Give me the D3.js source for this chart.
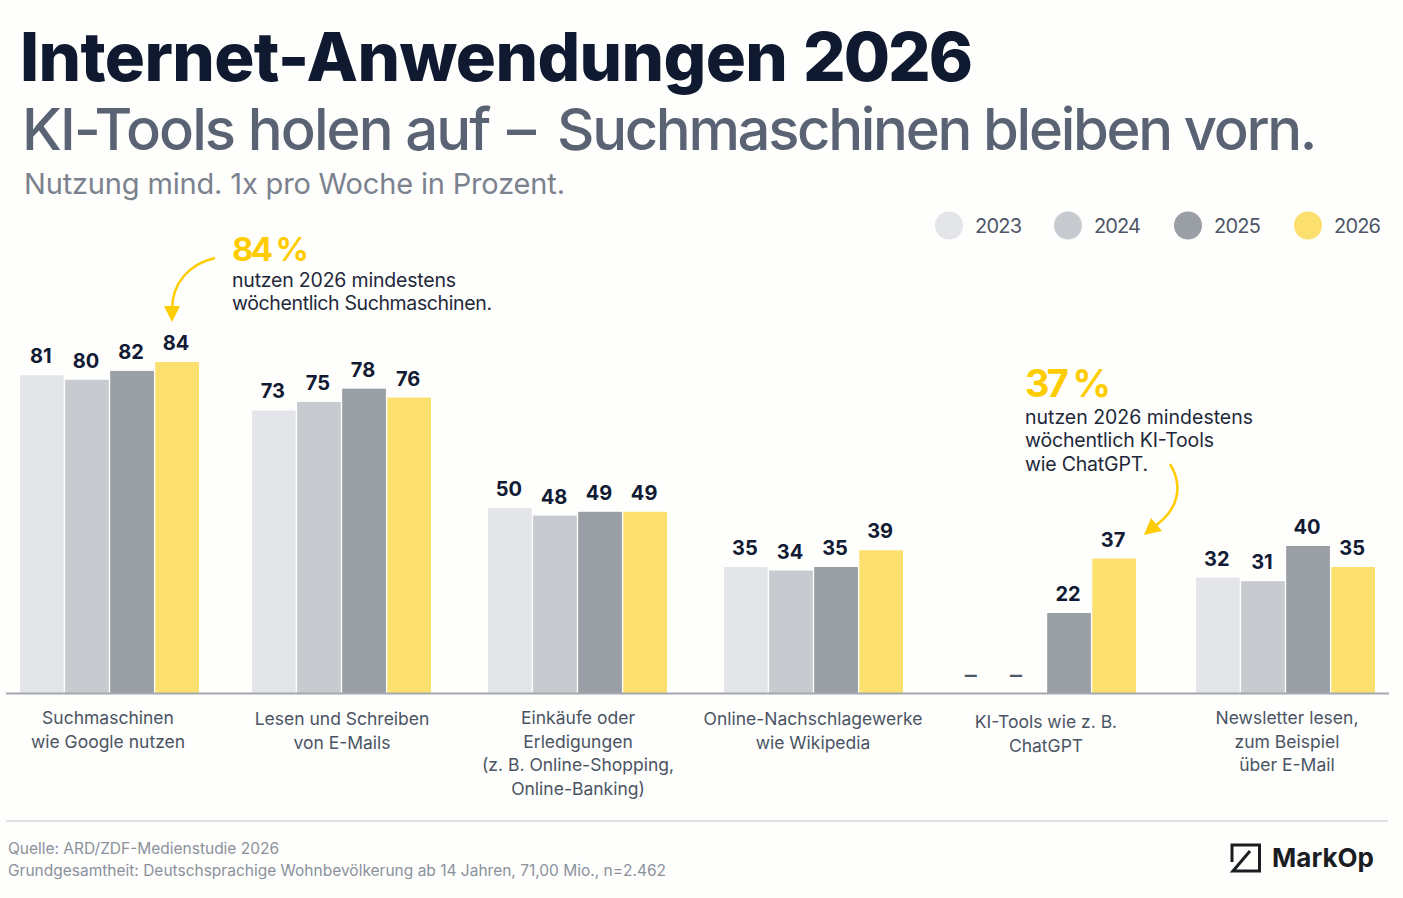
<!DOCTYPE html>
<html><head><meta charset="utf-8">
<script src="https://cdn.jsdelivr.net/npm/d3@7/dist/d3.min.js"></script>
<style>html,body{margin:0;padding:0;background:#fefefd}svg{display:block}text{font-family:Inter,"Noto Sans",sans-serif}</style>
</head><body><svg id="c" width="1403" height="898"></svg>
<script>
const years=["2023","2024","2025","2026"];
const categories=["Suchmaschinen wie Google nutzen","Lesen und Schreiben von E-Mails","Einkäufe oder Erledigungen","Online-Nachschlagewerke wie Wikipedia","KI-Tools wie z. B. ChatGPT","Newsletter lesen, zum Beispiel über E-Mail"];
const categoryLines=[["Suchmaschinen","wie Google nutzen"],["Lesen und Schreiben","von E-Mails"],["Einkäufe oder","Erledigungen","(z. B. Online-Shopping,","Online-Banking)"],["Online-Nachschlagewerke","wie Wikipedia"],["KI-Tools wie z. B.","ChatGPT"],["Newsletter lesen,","zum Beispiel","über E-Mail"]];
const v2023=[81,73,50,35,null,32];
const v2024=[80,75,48,34,null,31];
const v2025=[82,78,49,35,22,40];
const v2026=[84,76,49,39,37,35];
const series=[v2023,v2024,v2025,v2026];
const colors=["#e3e5e8","#c7cbcf","#9a9fa6","#fce06f"];
const svg=d3.select("#c");
const base=693, groupW=179;
const x0=d3.scaleOrdinal().domain(categories).range([20,252,488,724,957,1196]);
const labelX=d3.scaleOrdinal().domain(categories).range([108,342,578,813,1046,1287]);
const labelY=d3.scaleOrdinal().domain(categories).range([724,725,724,725,728,724]);
const x1=d3.scaleBand().domain(years).range([0,groupW]).paddingInner(0.03);
const y=d3.scaleLinear().domain([0,22,35,40,50,75,84]).range([base,base-80,base-126,base-147,base-185,base-291,base-331]);

function txt(s,x,yy,size,weight,fill,w,anchor){const t=svg.append("text").attr("x",x).attr("y",yy).attr("font-size",size).attr("font-weight",weight).attr("fill",fill).text(s);if(w)t.attr("textLength",w).attr("lengthAdjust","spacing");if(anchor)t.attr("text-anchor",anchor);return t;}
function spans(parts,yy,size,weight,fill){const t=svg.append("text").attr("y",yy).attr("font-size",size).attr("font-weight",weight).attr("fill",fill);
  parts.forEach(p=>t.append("tspan").attr("x",p[1]).attr("letter-spacing",p[2]).text(p[0]));return t;}

svg.append("rect").attr("width",1403).attr("height",898).attr("fill","#fefefd");
spans([["Internet-Anwendungen ",20,-0.6],["2026",803,-2]],81,67,800,"#0f1a30");
spans([["KI-Tools holen auf ",22,-1.9],["– ",507,0],["Suchmaschinen bleiben vorn.",557,-2.33]],150,58,500,"#5a6373");
txt("Nutzung mind. 1x pro Woche in Prozent.",24,194,29,400,"#7b828e",541);

// legend
const legendCx=[949,1068,1188,1308];
years.forEach((yr,i)=>{
  svg.append("circle").attr("cx",legendCx[i]).attr("cy",225.5).attr("r",14).attr("fill",colors[i]);
  txt(yr,legendCx[i]+26,232.5,20,400,"#4e5668",47);
});

// bars
categories.forEach((c,ci)=>{
  const g=svg.append("g").attr("transform",`translate(${x0(c)},0)`);
  years.forEach((yr,si)=>{
    const v=series[si][ci];
    const bx=x1(yr),bw=x1.bandwidth();
    if(v==null){
      g.append("text").attr("x",bx+bw/2-8).attr("y",683).attr("text-anchor","middle").attr("font-size",24).attr("font-weight",500).attr("fill","#4e5668").text("–");
      return;
    }
    g.append("rect").attr("x",bx).attr("y",y(v)).attr("width",bw).attr("height",base-y(v)).attr("fill",colors[si]);
    g.append("text").attr("x",bx+bw/2-1).attr("y",y(v)-12).attr("text-anchor","middle").attr("font-size",20).attr("font-weight",700).attr("fill","#111b33").text(v);
  });
  categoryLines[ci].forEach((l,li)=>{
    svg.append("text").attr("x",labelX(c)).attr("y",labelY(c)+li*23.7).attr("text-anchor","middle").attr("font-size",17.5).attr("font-weight",400).attr("fill","#4b5463").text(l);
  });
});
svg.append("line").attr("x1",6).attr("x2",1389).attr("y1",693.5).attr("y2",693.5).attr("stroke","#a3a8b0").attr("stroke-width",2);

// annotations
const yel="#ffcc00";
txt("84 %",232,261,33,700,yel,77);
txt("nutzen 2026 mindestens",232,287,19.5,400,"#1f2838",224);
txt("wöchentlich Suchmaschinen.",232,310,19.5,400,"#1f2838",260);
svg.append("path").attr("d","M215,258 C190,264 172,282 172,310").attr("fill","none").attr("stroke",yel).attr("stroke-width",2.5);
svg.append("path").attr("d","M164,306 L180,306 L172,322 Z").attr("fill",yel);

txt("37 %",1025,397,38,700,yel,86);
txt("nutzen 2026 mindestens",1025,424,19.5,400,"#1f2838",228);
txt("wöchentlich KI-Tools",1025,447,19.5,400,"#1f2838",189);
txt("wie ChatGPT.",1025,471,19.5,400,"#1f2838",123);
svg.append("path").attr("d","M1170,464 C1183,485 1180,510 1152,528").attr("fill","none").attr("stroke",yel).attr("stroke-width",2.5);
svg.append("path").attr("d","M1144,535 L1151,518 L1162,531 Z").attr("fill",yel);

// footer
svg.append("line").attr("x1",6).attr("x2",1388).attr("y1",821).attr("y2",821).attr("stroke","#dfe2e8").attr("stroke-width",2);
txt("Quelle: ARD/ZDF-Medienstudie 2026",8,854,15.5,400,"#8b919b",271);
txt("Grundgesamtheit: Deutschsprachige Wohnbevölkerung ab 14 Jahren, 71,00 Mio., n=2.462",8,876,15.5,400,"#8b919b",658);
svg.append("path").attr("d","M1232,862 L1232,845 L1259.5,845 L1259.5,871 L1233,871 L1250,851").attr("fill","none").attr("stroke","#1a1d22").attr("stroke-width",3);
txt("MarkOp",1272,867,26,700,"#1a1d22",102);
</script></body></html>
